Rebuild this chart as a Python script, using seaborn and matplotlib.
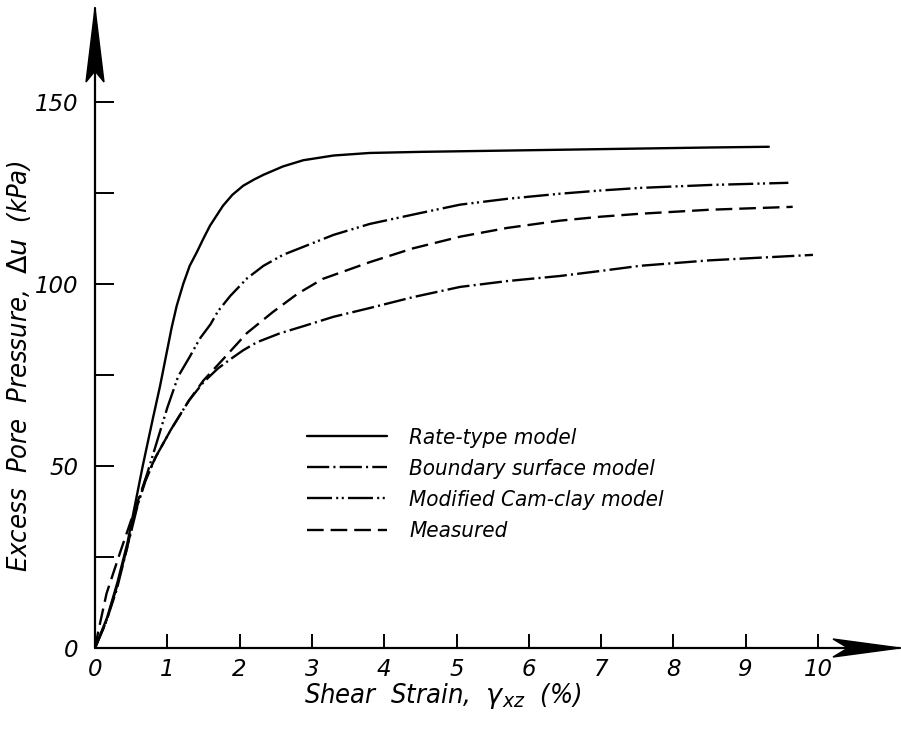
import matplotlib
matplotlib.use("Agg")
import matplotlib.pyplot as plt
import matplotlib.transforms as mtransforms
from matplotlib.patches import Polygon
import seaborn as sns

# values
rate_strain = [0, 0.17, 0.31, 0.45, 0.55, 0.66, 0.8, 0.9, 1.0, 1.06, 1.13, 1.22, 1.31, 1.41,
               1.5, 1.59, 1.77, 1.9, 2.05, 2.2, 2.33, 2.6, 2.88, 3.3, 3.8, 4.5, 5.5, 6.5,
               7.5, 8.5, 9.32]
rate_du = [0, 8.5, 18, 29, 39, 50, 63, 72, 82, 88, 94, 100, 105, 108.8,
           112.5, 116, 121.5, 124.5, 127, 128.7, 130, 132.3, 134, 135.3, 136, 136.3, 136.6, 136.9,
           137.2, 137.5, 137.7]

boundary_strain = [0, 0.15, 0.3, 0.45, 0.55, 0.7, 0.84, 1.05, 1.3, 1.5, 1.7, 1.87, 2.05, 2.24,
                   2.55, 2.88, 3.3, 3.8, 4.4, 5.05, 5.7, 6.43, 7.0, 7.54, 8.5, 9.93]
boundary_du = [0, 7, 16, 28, 37, 46, 52.5, 60, 68, 73, 76.8, 79.3, 81.8, 84,
               86.4, 88.4, 91, 93.4, 96.4, 99.2, 100.8, 102.2, 103.6, 105, 106.5, 108]

camclay_strain = [0, 0.15, 0.29, 0.45, 0.6, 0.8, 1.0, 1.15, 1.31, 1.45, 1.6, 1.7, 1.87, 2.1,
                  2.33, 2.6, 2.88, 3.3, 3.8, 4.5, 5.05, 5.7, 6.43, 7.0, 7.54, 8.5, 9.59]
camclay_du = [0, 7, 16, 28, 40, 53, 66, 74.6, 80, 85, 89, 92.5, 96.7, 101.5,
              105, 108, 110.2, 113.5, 116.5, 119.5, 121.8, 123.4, 124.8, 125.7, 126.4, 127.2, 127.8]

measured_strain = [0, 0.05, 0.16, 0.36, 0.55, 0.7, 0.84, 1.05, 1.3, 1.5, 1.77, 2.1, 2.46,
                   2.8, 3.15, 3.8, 4.4, 5.05, 5.7, 6.43, 7.0, 7.54, 8.5, 9.65]
measured_du = [0, 5, 15, 27, 38, 46.5, 52.5, 60, 68, 73.5, 79.3, 86.5, 92.3,
               97.3, 101.4, 106, 109.8, 113, 115.4, 117.4, 118.5, 119.3, 120.4, 121.2]

labels = ["Rate-type model", "Boundary surface model",
          "Modified Cam-clay model", "Measured"]
styles = ["-", (0, (16, 3, 1.5, 3)), (0, (18, 3, 1.5, 2.5, 1.5, 3)), (0, (12, 5))]

sns.set_theme(style="white")
plt.rcParams["font.family"] = ["DejaVu Sans"]
plt.rcParams["lines.scale_dashes"] = False
plt.rcParams["mathtext.fontset"] = "dejavusans"

fig = plt.figure(figsize=(9.01, 7.29), dpi=100)
ax = fig.add_axes([95 / 901, 81 / 729, 805 / 901, 640 / 729])

series = [(rate_strain, rate_du), (boundary_strain, boundary_du),
          (camclay_strain, camclay_du), (measured_strain, measured_du)]
for (xs, ys), lab, ls in zip(series, labels, styles):
    sns.lineplot(x=xs, y=ys, ax=ax, color="black", lw=1.7, linestyle=ls,
                 label=lab, estimator=None, sort=False)

ax.set_xlim(0, 805 / 72.3)
ax.set_ylim(0, 640 / 3.64)
for s in ax.spines.values():
    s.set_visible(False)

# axis lines with arrow heads
ax.plot([0, 1], [0, 0], transform=ax.transAxes, color="black", lw=1.6, clip_on=False)
ax.plot([0, 0], [0, 1], transform=ax.transAxes, color="black", lw=1.6, clip_on=False)
head_y = [(0, 0), (-0.09, -0.74), (0, -0.63), (0.09, -0.74)]
head_x = [(0, 0), (-0.67, 0.09), (-0.52, 0), (-0.67, -0.09)]
for anchor, shape in [((0, 1), head_y), ((1, 0), head_x)]:
    tr = fig.dpi_scale_trans + mtransforms.ScaledTranslation(anchor[0], anchor[1], ax.transAxes)
    ax.add_patch(Polygon(shape, closed=True, transform=tr, color="black", clip_on=False))

ax.set_xticks(range(0, 11))
ax.set_yticks(range(0, 151, 25))
ax.set_yticklabels([str(v) if v % 50 == 0 else "" for v in range(0, 151, 25)])
ax.tick_params(axis="y", direction="in", length=14, width=1.4, color="black",
               left=True, pad=12, labelsize=16.5, labelcolor="black")
ax.tick_params(axis="x", direction="in", length=10, width=1.4, color="black",
               bottom=True, pad=7, labelsize=16.5, labelcolor="black")
for t in ax.get_xticklabels() + ax.get_yticklabels():
    t.set_fontstyle("oblique")

ax.set_xlabel(r"Shear  Strain,  $\mathit{\gamma}_{xz}$  (%)", fontsize=19.5, color="black",
              fontstyle="oblique", fontstretch="condensed")
ax.set_ylabel(r"Excess  Pore  Pressure,  $\Delta\mathit{u}$  (kPa)", fontsize=19.5,
              color="black", fontstyle="oblique", fontstretch="condensed")
ax.xaxis.set_label_coords((443 - 95) / 805, -33 / 640)
ax.yaxis.set_label_coords(-62 / 805, 282 / 640)

leg = ax.legend(loc="upper left", bbox_to_anchor=((307 - 95) / 805, (648 - 428) / 640),
                frameon=False, borderpad=0, borderaxespad=0, handlelength=3.6,
                handletextpad=1.0, labelspacing=0.5,
                prop={"size": 16, "style": "oblique", "stretch": "condensed"})
for line in leg.get_lines():
    line.set_linewidth(1.7)
for txt in leg.get_texts():
    txt.set_color("black")

fig.savefig("out.png", dpi=100)
